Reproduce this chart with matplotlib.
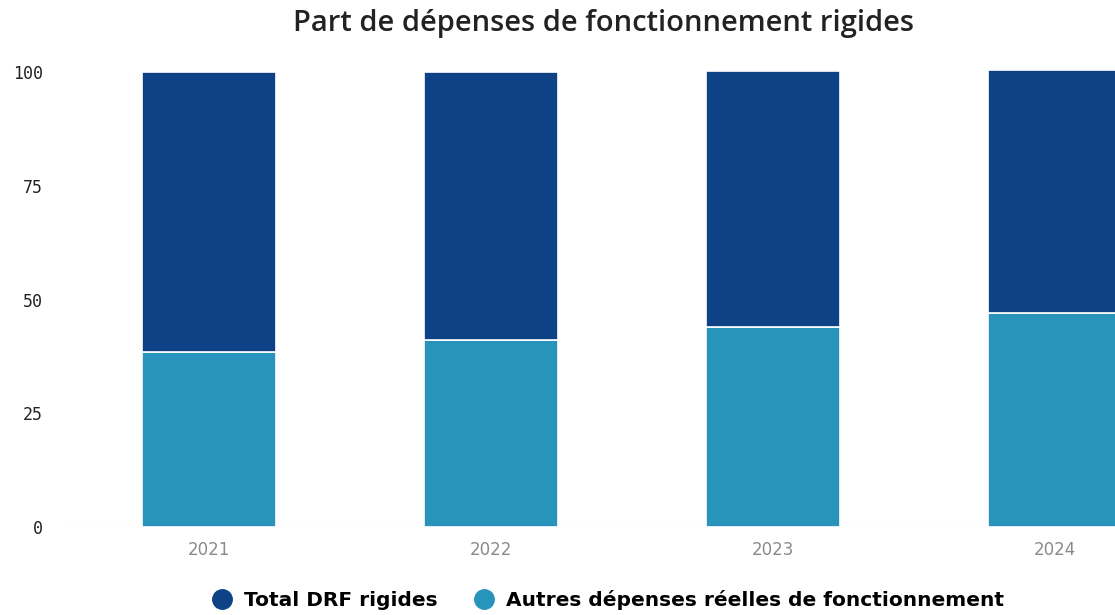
import numpy as np
import matplotlib
matplotlib.use("Agg")
import matplotlib.pyplot as plt
from matplotlib.lines import Line2D

# =========================
# DATA
# =========================
years = ["2021", "2022", "2023", "2024"]
autres = [38.5, 41.1, 44.0, 47.0]       # bottom segment
rigides = [61.5, 59.0, 56.3, 53.4]      # top segment
yticks = [0, 25, 50, 75, 100]

dark = "#0e4186"
light = "#2994bb"

# =========================
# FIGURE
# =========================
W, H = 1115, 615
fig = plt.figure(figsize=(W / 100, H / 100), dpi=100)

# pixel geometry
x_left, x_right = 68, 1115
y_zero, px_per_unit = 527, 4.55
y_top_val = 102
ax = fig.add_axes([x_left / W, 1 - y_zero / H,
                   (x_right - x_left) / W, y_top_val * px_per_unit / H])

x = np.arange(len(years))
ax.bar(x, autres, width=0.475, color=light, edgecolor="white", linewidth=1.2)
ax.bar(x, rigides, bottom=autres, width=0.475, color=dark,
       edgecolor="white", linewidth=1.2)

ax.set_xlim(-0.5, (x_right - 209) / 282)
ax.set_ylim(0, y_top_val)
ax.set_xticks(x)
ax.set_xticklabels(years, color="#8a8a8a", fontsize=12, family="DejaVu Sans")
ax.set_yticks(yticks)
ax.set_yticklabels([str(v) for v in yticks], family="DejaVu Sans Mono",
                   fontsize=12, color="#222222")
ax.tick_params(axis="both", length=0)
ax.tick_params(axis="x", pad=10)
ax.tick_params(axis="y", pad=18)
for s in ax.spines.values():
    s.set_visible(False)
ax.axhline(0, color="#f0f0f0", lw=1, zorder=0)

fig.text(603 / W, 1 - 24 / H, "Part de dépenses de fonctionnement rigides",
         ha="center", va="center", fontsize=21, color="#222222",
         family="Open Sans", weight="semibold")

handles = [
    Line2D([], [], marker="o", ls="", markersize=14, color=dark),
    Line2D([], [], marker="o", ls="", markersize=14, color=light),
]
fig.legend(handles, ["Total DRF rigides", "Autres dépenses réelles de fonctionnement"],
           loc="center", bbox_to_anchor=(603 / W, 1 - 600 / H), ncol=2,
           frameon=False, handletextpad=0.1, columnspacing=1.3,
           prop={"family": "DejaVu Sans", "weight": "bold", "size": 14.5})

fig.savefig("out.png", dpi=100)
